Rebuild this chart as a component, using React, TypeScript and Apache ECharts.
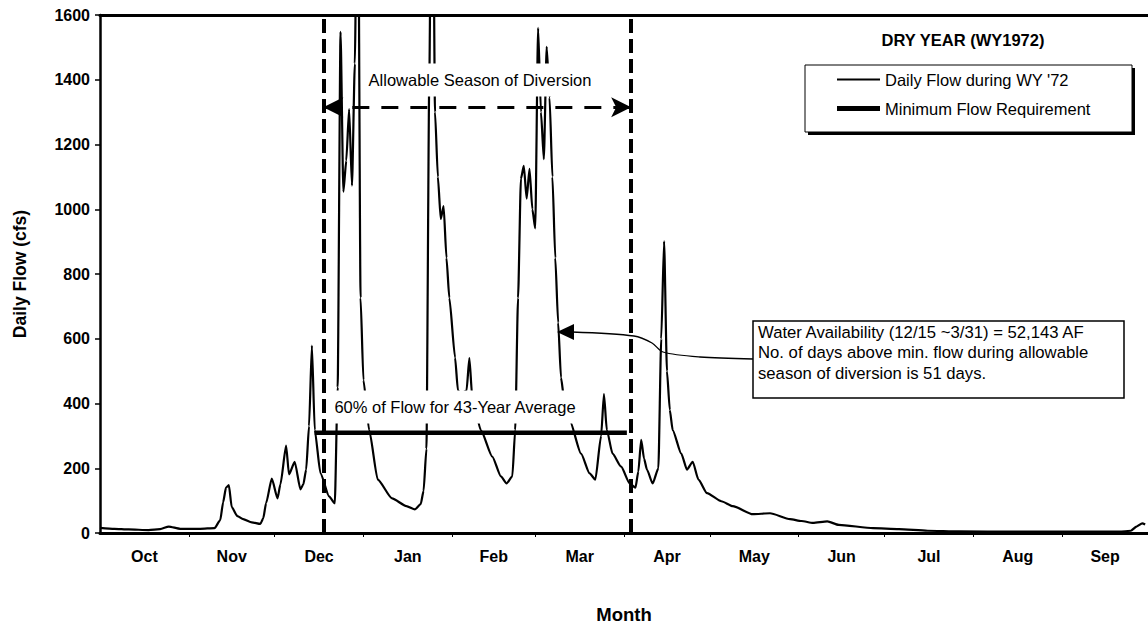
import React, { useEffect, useRef } from "react";
import * as echarts from "echarts";

// ---- data (water year 1972: day 0 = Oct 1) ----
const monthNames = ["Oct", "Nov", "Dec", "Jan", "Feb", "Mar", "Apr", "May", "Jun", "Jul", "Aug", "Sep"];
const monthStartDays = [0, 31, 61, 92, 123, 152, 183, 213, 244, 274, 305, 336, 366];

const flowDays = [
  0, 5, 10, 17, 21, 24, 28, 35, 40, 42, 43, 44, 45, 46, 48, 50, 53, 56, 57, 58,
  60, 62, 63, 65, 66, 68, 70, 71, 72, 73, 74, 75, 77, 80, 82, 83, 84, 85, 86, 87,
  88, 89, 90, 91, 92, 94, 97, 102, 107, 110, 112, 113, 114, 115, 116, 117, 118, 119, 120, 121,
  122, 124, 125, 126, 128, 129, 130, 133, 137, 140, 142, 144, 145, 146, 147, 148, 149, 150, 151, 152,
  153, 154, 155, 156, 157, 158, 159, 160, 161, 162, 164, 168, 171, 173, 175, 176, 177, 179, 182, 185,
  187, 188, 189, 190, 191, 193, 195, 196, 197, 198, 199, 200, 203, 205, 207, 209, 212, 217, 221, 228,
  234, 241, 245, 249, 254, 258, 270, 279, 289, 300, 320, 340, 356, 360, 362, 364, 365,
];
const flowCfs = [
  16, 13, 11, 9, 12, 20, 13, 13, 15, 40, 95, 140, 148, 80, 52, 43, 33, 28, 45, 92,
  168, 107, 150, 270, 181, 220, 135, 150, 196, 330, 579, 318, 184, 113, 92, 450, 1548, 1054, 1150, 1309,
  1073, 1450, 2300, 726, 472, 318, 165, 107, 83, 73, 89, 130, 260, 1400, 2500, 1300, 1100, 970, 1010, 850,
  726, 542, 441, 430, 440, 540, 420, 318, 236, 175, 153, 175, 318, 726, 1094, 1134, 1033, 1125, 1000, 941,
  1560, 1300, 1155, 1502, 1345, 1100, 850, 650, 480, 420, 349, 245, 184, 165, 300, 429, 318, 245, 205, 153,
  140, 190, 288, 230, 196, 153, 200, 600, 901, 500, 380, 318, 245, 196, 220, 165, 123, 98, 83, 58,
  61, 43, 37, 31, 36, 25, 15, 12, 7, 5, 4, 4, 4, 7, 20, 30, 26,
];

const minFlowDays = [75, 184];
const minFlowCfs = [310, 310];

const seasonStartDay = 78;
const seasonEndDay = 185.5;
const seasonArrowCfs = 1315;

const yMax = 1600;
const yInterval = 200;

const FONT = "'Liberation Sans', Arial, Helvetica, sans-serif";

export default function App() {
  const ref = useRef<HTMLDivElement>(null);

  useEffect(() => {
    if (!ref.current) return;
    const chart = echarts.init(ref.current, undefined, { renderer: "svg" });

    const flowData = flowDays.map((d, i) => [d, flowCfs[i]]);
    const minData = minFlowDays.map((d, i) => [d, minFlowCfs[i]]);
    const monthCenters = monthNames.map((_, i) => (monthStartDays[i] + monthStartDays[i + 1]) / 2);

    const option: any = {
      animation: false,
      backgroundColor: "#ffffff",
      textStyle: { fontFamily: FONT, color: "#000" },
      grid: { left: 100, right: 0, top: 15, bottom: 92 },
      xAxis: [
        {
          type: "value",
          min: 0,
          max: 366,
          position: "bottom",
          name: "Month",
          nameLocation: "middle",
          nameGap: 72,
          nameTextStyle: { fontFamily: FONT, fontWeight: "bold", fontSize: 18.5, color: "#000" },
          axisLine: { show: true, lineStyle: { color: "#000", width: 3 } },
          axisTick: {
            show: true,
            length: 4,
            customValues: monthStartDays.slice(1, 12),
            lineStyle: { color: "#000", width: 1 },
          },
          axisLabel: {
            show: true,
            customValues: monthCenters,
            formatter: (v: number) => {
              const idx = monthCenters.findIndex((c) => Math.abs(c - v) < 0.01);
              return idx >= 0 ? monthNames[idx] : "";
            },
            margin: 15,
            fontFamily: FONT,
            fontWeight: "bold",
            fontSize: 16,
            color: "#000",
          },
          splitLine: { show: false },
        },
        {
          type: "value",
          min: 0,
          max: 366,
          position: "top",
          axisLine: { show: true, onZero: false, lineStyle: { color: "#000", width: 3 } },
          axisTick: { show: false },
          axisLabel: { show: false },
          splitLine: { show: false },
        },
      ],
      yAxis: {
        type: "value",
        min: 0,
        max: yMax,
        interval: yInterval,
        name: "Daily Flow (cfs)",
        nameLocation: "middle",
        nameGap: 71,
        nameTextStyle: { fontFamily: FONT, fontWeight: "bold", fontSize: 17.5, color: "#000" },
        axisLine: { show: true, lineStyle: { color: "#000", width: 2.5 } },
        axisTick: { show: true, length: 5, lineStyle: { color: "#000", width: 1.5 } },
        axisLabel: {
          margin: 10,
          fontFamily: FONT,
          fontWeight: "bold",
          fontSize: 16,
          color: "#000",
          formatter: (v: number) => String(v),
        },
        splitLine: { show: false },
      },
      legend: {
        show: true,
        orient: "vertical",
        left: 837,
        top: 71,
        padding: 0,
        itemWidth: 43,
        itemHeight: 14,
        itemGap: 12,
        z: 6,
        textStyle: { fontFamily: FONT, fontSize: 16.5, color: "#000" },
        data: [
          { name: "Daily Flow during WY '72", icon: "path://M0,0H43V2H0Z" },
          { name: "Minimum Flow Requirement", icon: "path://M0,0H43V5H0Z" },
        ],
      },
      series: [
        {
          name: "Daily Flow during WY '72",
          type: "line",
          xAxisIndex: 0,
          data: flowData,
          showSymbol: false,
          symbol: "none",
          smooth: 0.2,
          smoothMonotone: "x",
          clip: true,
          lineStyle: { color: "#000", width: 2.2 },
          itemStyle: { color: "#000" },
          z: 2,
          markLine: {
            silent: true,
            symbol: "none",
            label: { show: false },
            data: [
              { xAxis: seasonStartDay, lineStyle: { color: "#000", width: 4, type: [14, 6] } },
              { xAxis: seasonEndDay, lineStyle: { color: "#000", width: 4, type: [14, 6] } },
              [
                {
                  coord: [seasonStartDay, seasonArrowCfs],
                  symbol: "arrow",
                  symbolSize: [15, 20],
                  lineStyle: { color: "#000", width: 3, type: [17, 12] },
                },
                { coord: [seasonEndDay, seasonArrowCfs], symbol: "arrow", symbolSize: [15, 20] },
              ],
            ],
          },
        },
        {
          name: "Minimum Flow Requirement",
          type: "line",
          xAxisIndex: 0,
          data: minData,
          showSymbol: false,
          symbol: "none",
          lineStyle: { color: "#000", width: 4.5 },
          itemStyle: { color: "#000" },
          z: 3,
        },
      ],
      graphic: [
        // legend frame with shadow
        { type: "rect", z: 1, shape: { x: 808, y: 68, width: 327, height: 67 }, style: { fill: "#000" } },
        {
          type: "rect",
          z: 1,
          shape: { x: 805, y: 65, width: 327, height: 67 },
          style: { fill: "#fff", stroke: "#000", lineWidth: 1 },
        },
        {
          type: "text",
          z: 10,
          x: 963,
          y: 40,
          style: {
            text: "DRY YEAR (WY1972)",
            font: `bold 16.5px ${FONT}`,
            fill: "#000",
            textAlign: "center",
            textVerticalAlign: "middle",
          },
        },
        {
          type: "text",
          z: 10,
          x: 480,
          y: 80,
          style: {
            text: "Allowable Season of Diversion",
            font: `16.5px ${FONT}`,
            fill: "#000",
            textAlign: "center",
            textVerticalAlign: "middle",
            backgroundColor: "#fff",
            padding: [8, 6, 8, 6],
          },
        },
        {
          type: "text",
          z: 10,
          x: 455,
          y: 407,
          style: {
            text: "60% of Flow for 43-Year Average",
            font: `16.5px ${FONT}`,
            fill: "#000",
            textAlign: "center",
            textVerticalAlign: "middle",
            backgroundColor: "#fff",
            padding: [9, 4, 7, 4],
          },
        },
        // callout connector and arrowhead
        {
          type: "polyline",
          z: 9,
          shape: {
            points: [
              [753, 359],
              [700, 357],
              [663, 352],
              [652, 343],
              [634, 336],
              [572, 332],
            ],
            smooth: 0.3,
          },
          style: { stroke: "#000", lineWidth: 1.3, fill: "none" },
        },
        {
          type: "polygon",
          z: 9,
          shape: { points: [[557, 332], [574, 324], [574, 340]] },
          style: { fill: "#000" },
        },
        {
          type: "rect",
          z: 9,
          shape: { x: 753, y: 321, width: 371, height: 77 },
          style: { fill: "#fff", stroke: "#000", lineWidth: 1.5 },
        },
        {
          type: "text",
          z: 10,
          x: 758,
          y: 322,
          style: {
            text:
              "Water Availability (12/15 ~3/31) = 52,143 AF\nNo. of days above min. flow during allowable\nseason of diversion is 51 days.",
            font: `16.7px ${FONT}`,
            lineHeight: 20.5,
            fill: "#000",
            textAlign: "left",
            textVerticalAlign: "top",
          },
        },
      ],
    };

    chart.setOption(option);
    return () => chart.dispose();
  }, []);

  return (
    <div
      ref={ref}
      style={{ position: "fixed", left: 0, top: 0, width: 1148, height: 629, background: "#fff" }}
    />
  );
}
